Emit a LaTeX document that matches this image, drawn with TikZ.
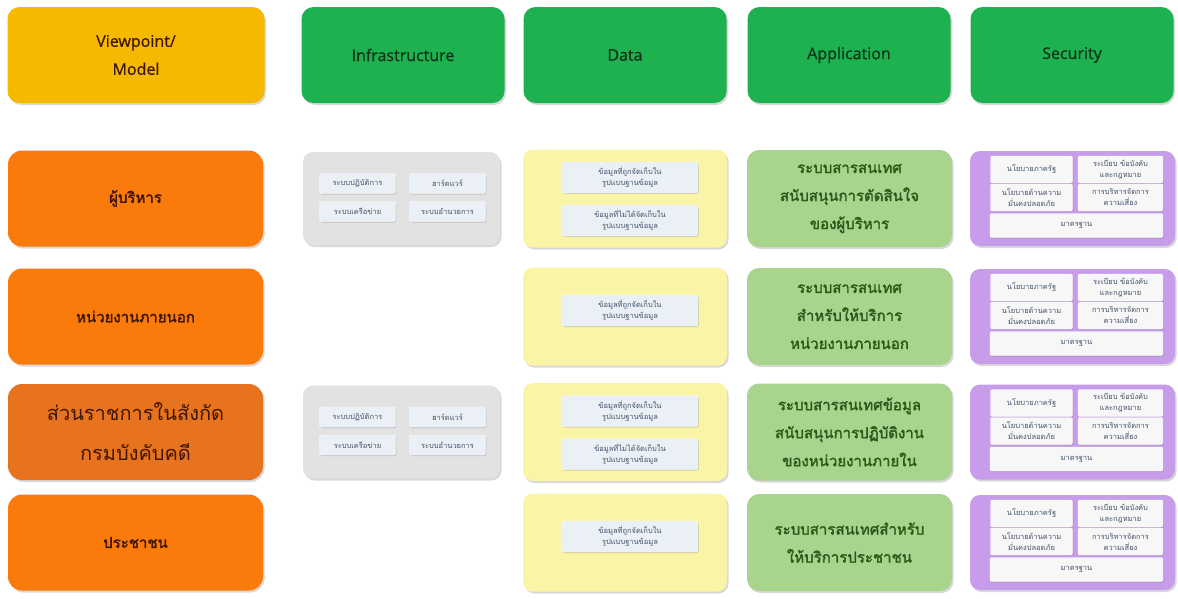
\documentclass[tikz,border=0pt]{standalone}
\usepackage{fontspec}
\setmainfont{Open Sans}
\newfontfamily\headfont[FakeBold=0.7]{Open Sans}
\newfontfamily\thaifont[Script=Thai,AutoFakeBold=2]{Loma}
\usepackage{xcolor}
\definecolor{viewGold}{HTML}{F5B900}
\definecolor{headGreen}{HTML}{1DB150}
\definecolor{headText}{HTML}{0B3319}
\definecolor{roleOrange}{HTML}{FA7A0C}
\definecolor{roleDark}{HTML}{E8731E}
\definecolor{roleText}{HTML}{3F1600}
\definecolor{infraGray}{HTML}{E2E2E2}
\definecolor{dataYellow}{HTML}{FAF5A6}
\definecolor{appGreen}{HTML}{A9D48E}
\definecolor{appText}{HTML}{2D5A1B}
\definecolor{secPurple}{HTML}{C79CEB}
\definecolor{itemFill}{HTML}{EAF0F6}
\definecolor{itemText}{HTML}{44536A}
\usetikzlibrary{positioning,shadows}
\tikzset{%
  softShadow/.style={%
    drop shadow={shadow xshift=1.5pt,shadow yshift=-2pt,opacity=.3}
  },
  viewBox/.style={%
    rectangle,
    rounded corners=12pt,
    fill=viewGold,
    softShadow,
    minimum width=257pt,
    minimum height=96pt,
    align=center,
    text=roleText,
    font=\headfont\fontsize{16}{28}\selectfont
  },
  headBox/.style={%
    rectangle,
    rounded corners=12pt,
    fill=headGreen,
    softShadow,
    minimum width=203pt,
    minimum height=96pt,
    align=center,
    text=headText,
    font=\headfont\fontsize{16}{28}\selectfont
  },
  roleBox/.style={%
    rectangle,
    rounded corners=14pt,
    fill=roleOrange,
    softShadow,
    minimum width=255pt,
    minimum height=96pt,
    align=center,
    text=roleText,
    font=\thaifont\bfseries\fontsize{15}{28}\selectfont
  },
  infraPanel/.style={%
    rectangle,
    rounded corners=10pt,
    fill=infraGray,
    softShadow,
    minimum width=197pt,
    minimum height=93pt
  },
  dataPanel/.style={%
    rectangle,
    rounded corners=10pt,
    fill=dataYellow,
    softShadow,
    minimum width=204pt,
    minimum height=98pt
  },
  appBox/.style={%
    rectangle,
    rounded corners=12pt,
    fill=appGreen,
    softShadow,
    minimum width=205pt,
    minimum height=97pt,
    align=center,
    text=appText,
    font=\thaifont\bfseries\fontsize{15}{28}\selectfont
  },
  secPanel/.style={%
    rectangle,
    rounded corners=10pt,
    fill=secPurple,
    softShadow,
    minimum width=205pt,
    minimum height=95pt
  },
  itemBox/.style={%
    rectangle,
    rounded corners=2pt,
    fill=itemFill,
    draw=white,
    drop shadow={shadow xshift=.8pt,shadow yshift=-1pt,opacity=.35},
    inner sep=1pt,
    align=center,
    text=itemText,
    font=\thaifont\fontsize{7.5}{11}\selectfont
  },
  secItem/.style={%
    itemBox,
    fill=white!94!gray
  }
}

\begin{document}
\begin{tikzpicture}[x=1pt,y=-1pt]
  \fill[white] (0,0) rectangle (1178,598);

  % header row
  \node[viewBox] (view) at (136,55) {Viewpoint/\\Model};
  \node[headBox] (infra) at (403,55) {Infrastructure};
  \node[headBox] (data) at (625,55) {Data};
  \node[headBox] (app) at (849,55) {Application};
  \node[headBox] (sec) at (1072,55) {Security};

  % viewpoints
  \node[roleBox] (boss) at (135.5,198.5) {ผู้บริหาร};
  \node[roleBox] (outer) at (135.5,316.5) {หน่วยงานภายนอก};
  \node[roleBox, fill=roleDark, font=\thaifont\fontsize{20}{40}\selectfont] (inner) at (135.5,432) {ส่วนราชการในสังกัด\\กรมบังคับคดี};
  \node[roleBox] (people) at (135.5,542.5) {ประชาชน};

  % infrastructure
  \foreach \r/\yy in {1/198.5,3/432} {
    \node[infraPanel] (infra\r) at (401.5,\yy) {};
    \node[itemBox, minimum width=76pt, minimum height=20pt] (infra\r os) at ([shift={(-44,-15)}]infra\r.center) {ระบบปฏิบัติการ};
    \node[itemBox, minimum width=76pt, minimum height=20pt] (infra\r hw) at ([shift={(46,-15)}]infra\r.center) {ฮาร์ดแวร์};
    \node[itemBox, minimum width=76pt, minimum height=20pt] (infra\r net) at ([shift={(-44,13)}]infra\r.center) {ระบบเครือข่าย};
    \node[itemBox, minimum width=76pt, minimum height=20pt] (infra\r svc) at ([shift={(46,13)}]infra\r.center) {ระบบอำนวยการ};
  }

  % data
  \foreach \r/\yy in {1/198.5,3/432} {
    \node[dataPanel] (data\r) at (625,\yy) {};
    \node[itemBox, minimum width=136pt, minimum height=31pt] (data\r db) at ([shift={(5,-21)}]data\r.center) {ข้อมูลที่ถูกจัดเก็บใน\\รูปแบบฐานข้อมูล};
    \node[itemBox, minimum width=136pt, minimum height=31pt] (data\r file) at ([shift={(5,22)}]data\r.center) {ข้อมูลที่ไม่ได้จัดเก็บใน\\รูปแบบฐานข้อมูล};
  }
  \foreach \r/\yy in {2/316.5,4/542.5} {
    \node[dataPanel] (data\r) at (625,\yy) {};
    \node[itemBox, minimum width=136pt, minimum height=31pt] (data\r db) at ([shift={(5,-6)}]data\r.center) {ข้อมูลที่ถูกจัดเก็บใน\\รูปแบบฐานข้อมูล};
  }

  % application
  \node[appBox] (app1) at (849.5,198.5) {ระบบสารสนเทศ\\สนับสนุนการตัดสินใจ\\ของผู้บริหาร};
  \node[appBox] (app2) at (849.5,316.5) {ระบบสารสนเทศ\\สำหรับให้บริการ\\หน่วยงานภายนอก};
  \node[appBox] (app3) at (849.5,432) {ระบบสารสนเทศข้อมูล\\สนับสนุนการปฏิบัติงาน\\ของหน่วยงานภายใน};
  \node[appBox] (app4) at (849.5,542.5) {ระบบสารสนเทศสำหรับ\\ให้บริการประชาชน};

  % security
  \foreach \r/\yy in {1/198.5,2/316.5,3/432,4/542.5} {
    \node[secPanel] (sec\r) at (1072.5,\yy) {};
    \node[secItem, minimum width=82pt, minimum height=27pt] (sec\r gov) at ([shift={(-41,-29)}]sec\r.center) {นโยบายภาครัฐ};
    \node[secItem, minimum width=85pt, minimum height=27pt] (sec\r law) at ([shift={(48,-29)}]sec\r.center) {ระเบียบ ข้อบังคับ\\และกฎหมาย};
    \node[secItem, minimum width=82pt, minimum height=27pt] (sec\r pol) at ([shift={(-41,-1)}]sec\r.center) {นโยบายด้านความ\\มั่นคงปลอดภัย};
    \node[secItem, minimum width=85pt, minimum height=27pt] (sec\r risk) at ([shift={(48,-1)}]sec\r.center) {การบริหารจัดการ\\ความเสี่ยง};
    \node[secItem, minimum width=173pt, minimum height=24pt] (sec\r std) at ([shift={(4,27)}]sec\r.center) {มาตรฐาน};
  }
\end{tikzpicture}
\end{document}
